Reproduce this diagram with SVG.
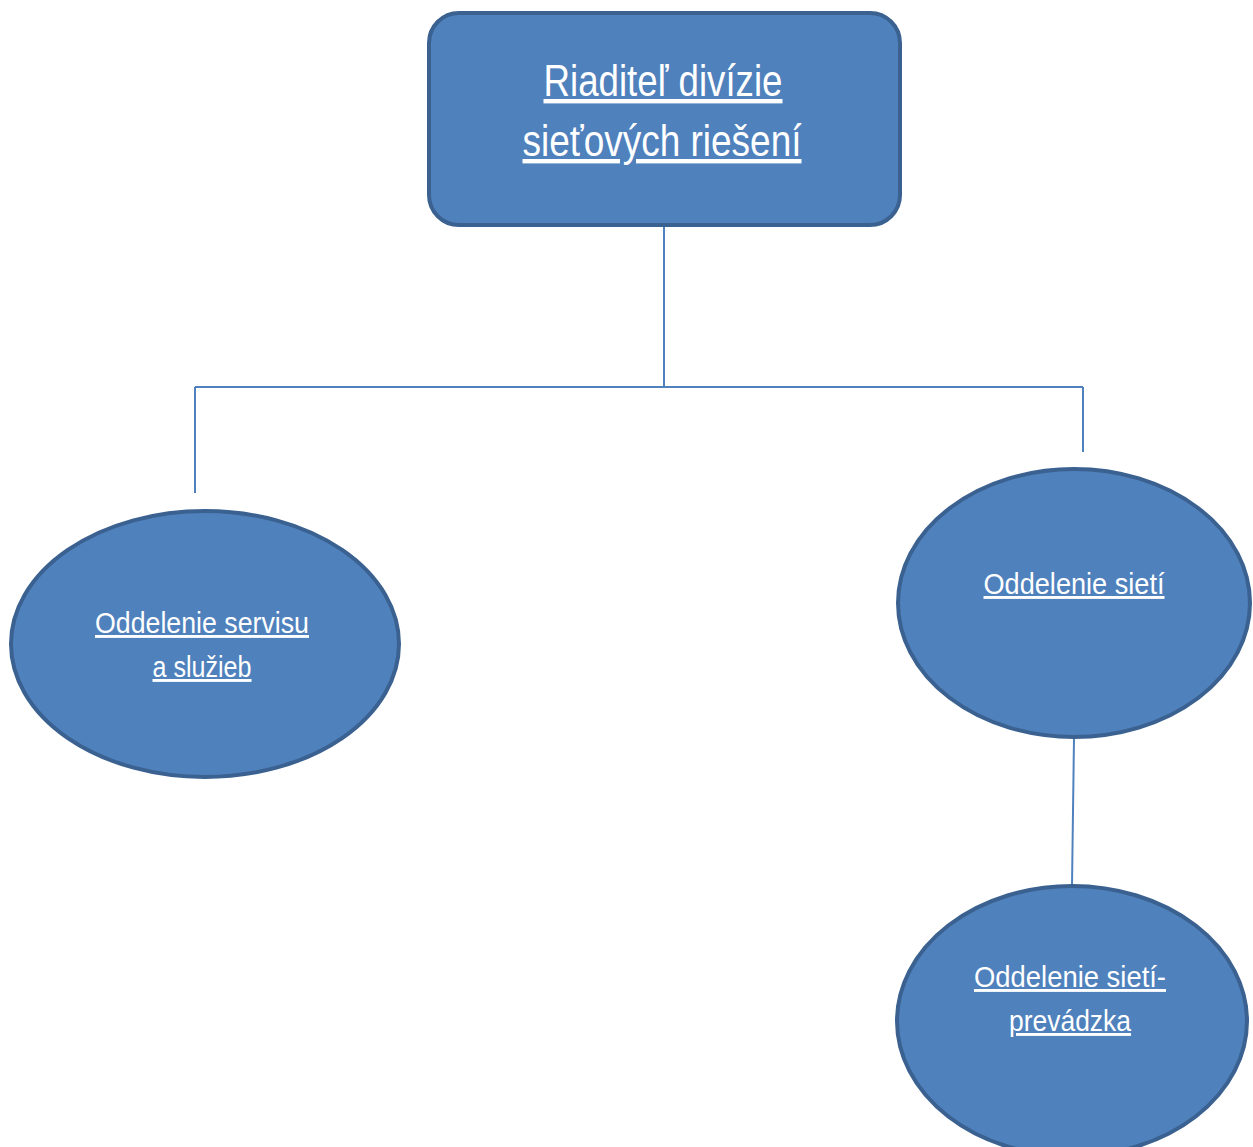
<svg xmlns="http://www.w3.org/2000/svg" width="1253" height="1147" viewBox="0 0 1253 1147">
<style>
.node{fill:#4F81BD;stroke:#3A6190;stroke-width:4}
.conn{fill:none;stroke:#4F81BD;stroke-width:2}
.t{fill:#FFFFFF;font-family:"Liberation Sans",Arial,sans-serif;text-anchor:middle;text-decoration:underline}
.big{font-size:44px}
.sm{font-size:29px}
</style>
<rect width="1253" height="1147" fill="#FFFFFF"/>
<g id="connectors">
<path class="conn" d="M664,226 V387 M195,387 H1083 M195,387 V493 M1083,387 V452 M1074,738 L1072,886"/>
</g>
<g id="riaditel">
<rect class="node" x="429" y="13" width="471" height="212" rx="30"/>
<text class="t big" x="663" y="96" textLength="239" lengthAdjust="spacingAndGlyphs">Riaditeľ divízie</text>
<text class="t big" x="662" y="156" textLength="279" lengthAdjust="spacingAndGlyphs">sieťových riešení</text>
</g>
<g id="servis">
<ellipse class="node" cx="205" cy="644" rx="194" ry="133"/>
<text class="t sm" x="202" y="633" textLength="214" lengthAdjust="spacingAndGlyphs">Oddelenie servisu</text>
<text class="t sm" x="202" y="677" textLength="99" lengthAdjust="spacingAndGlyphs">a služieb</text>
</g>
<g id="siete">
<ellipse class="node" cx="1074" cy="603" rx="176" ry="134"/>
<text class="t sm" x="1074" y="594" textLength="181" lengthAdjust="spacingAndGlyphs">Oddelenie sietí</text>
</g>
<g id="prevadzka">
<ellipse class="node" cx="1072" cy="1021" rx="175" ry="135"/>
<text class="t sm" x="1070" y="987" textLength="192" lengthAdjust="spacingAndGlyphs">Oddelenie sietí-</text>
<text class="t sm" x="1070" y="1031" textLength="122" lengthAdjust="spacingAndGlyphs">prevádzka</text>
</g>
</svg>
